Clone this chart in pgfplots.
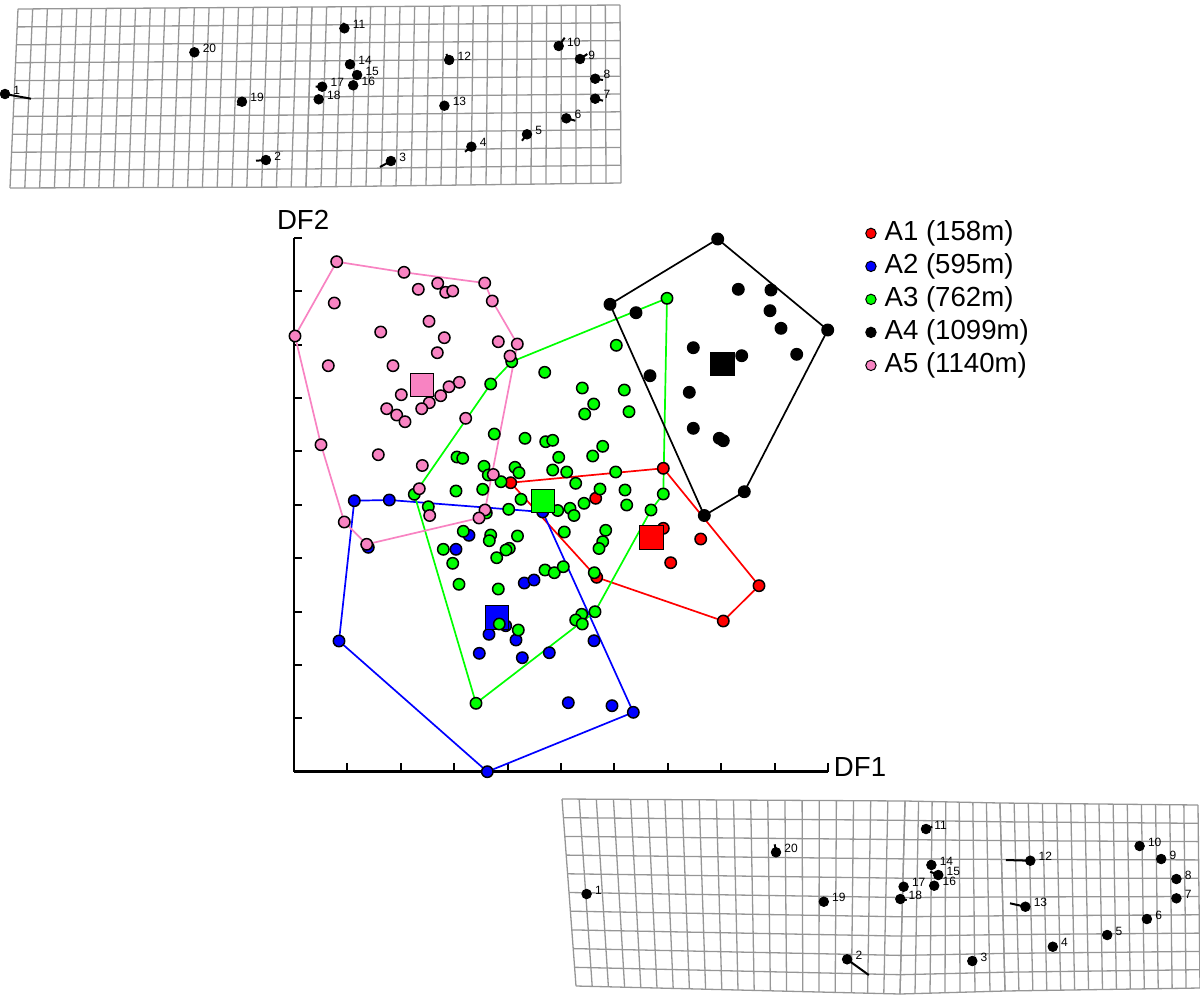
\documentclass[border=0pt]{standalone}
\usepackage{pgfplots}
\pgfplotsset{compat=1.18}
\usepackage{fontspec}
\setmainfont{Liberation Sans}
\usetikzlibrary{calc}
\definecolor{cred}{RGB}{255,0,0}
\definecolor{cblue}{RGB}{0,0,255}
\definecolor{cgreen}{RGB}{0,255,0}
\definecolor{cpink}{RGB}{248,131,194}
\definecolor{gridc}{RGB}{150,150,150}
\pgfdeclarelayer{gridlayer}
\pgfsetlayers{gridlayer,main}
\pgfplotsset{table/px/.style={x expr={(\thisrowno{0}-294)/53.4}, y expr={(771.7-\thisrowno{1})/53.37}},
  pts/.style={only marks, mark=*, mark size=2.85pt, mark options={fill=#1, draw=black, line width=0.75pt}},
  hull/.style={color=#1, line width=0.85pt, no marks},
  cen/.style={only marks, mark=square*, mark size=5.9pt, mark options={fill=#1, draw=none}},
  lm/.style={only marks, mark=*, mark size=2.4pt, black, nodes near coords,
    point meta=explicit symbolic,
    every node near coord/.append style={anchor=west, font=\fontsize{6}{7}\selectfont, inner sep=0pt, xshift=4pt, yshift=2pt, text=black}}}
\begin{document}
\begin{tikzpicture}
% ---------- canvas axis in pixel units for the two deformation grids ----------
\begin{axis}[name=canvas, at={(0,0)}, anchor=north west, scale only axis,
  width=600pt, height=498pt, xmin=0, xmax=1200, ymin=0, ymax=996,
  y dir=reverse, hide axis, clip=false]
% displacement vectors, upper grid
\addplot[black, line width=1pt, unbounded coords=jump] table {
x y
5 94
31 98.7
nan nan
265.9 160
256 160.7
nan nan
390.9 161
380 167
nan nan
471.4 146.7
465 151.7
nan nan
527 134.3
522 140.7
nan nan
566.3 118.3
575.4 120.7
nan nan
595.2 98.7
603 100.7
nan nan
595.2 78.7
603 80
nan nan
580 59
587.3 54
nan nan
558.7 46
564.7 37.7
nan nan
344.4 28.3
343.3 22.7
nan nan
449.2 60
446.4 54
nan nan
350 64.3
345.2 63.3
nan nan
322.2 86.7
315.5 86.7
nan nan
318.7 99.3
315.5 100.7
nan nan
242 101.7
237.3 105
};
% displacement vectors, lower grid
\addplot[black, line width=1pt, unbounded coords=jump] table {
x y
847.1 959.3
868.8 975
nan nan
926 829
932.2 826.7
nan nan
1030.3 860.7
1005.8 860
nan nan
1025.4 906.7
1010 903.3
nan nan
931.4 865
930.2 860
nan nan
938.3 875
930.2 871.7
nan nan
934.2 885.7
930.2 884.3
nan nan
900.3 899
906.8 900
nan nan
776 852.3
774.7 844.3
};
% landmarks, upper grid
\addplot[lm] table[meta=l] {
x y l
5 94 1
265.9 160 2
390.9 161 3
471.4 146.7 4
527 134.3 5
566.3 118.3 6
595.2 98.7 7
595.2 78.7 8
580 59 9
558.7 46 10
344.4 28.3 11
449.2 60 12
444.4 105.7 13
350 64.3 14
357.1 75 15
353.2 85.3 16
322.2 86.7 17
318.7 99.3 18
242 101.7 19
194.4 52.3 20
};
% landmarks, lower grid
\addplot[lm] table[meta=l] {
x y l
586.6 894 1
847.1 959.3 2
972.3 961 3
1052.8 946.7 4
1107.2 935 5
1146.9 919 6
1176.4 898.3 7
1176.4 879 8
1161.2 859 9
1139.6 846 10
926 829 11
1030.3 860.7 12
1025.4 906.7 13
931.4 865 14
938.3 875 15
934.2 885.7 16
903.6 886.7 17
900.3 899 18
823.8 901.7 19
776 852.3 20
};
\end{axis}
% ---------- grid lines (behind the landmarks) ----------
\begin{pgfonlayer}{gridlayer}
\begin{scope}[x=0.5pt, y=-0.5pt]
\foreach \ka/\txa/\tya/\bxa/\bya/\kb/\txb/\tyb/\bxb/\byb in {
   0/18/9/10/188/20/312/7/306/187,
   20/312/7/306/187/41/620/5/621/183,
   0/562/799/576/986/20/905/801/900/994,
   20/905/801/900/994/27/1000/803/1005/991,
   27/1000/803/1005/991/41/1198/805/1200/988}{
  \foreach \c in {\ka,...,\kb}{
    \pgfmathsetmacro\f{(\c-\ka)/(\kb-\ka)}
    \draw[gridc, line width=0.65pt] ($(\txa,\tya)!\f!(\txb,\tyb)$) -- ($(\bxa,\bya)!\f!(\bxb,\byb)$);
  }
  \foreach \r in {0,...,10}{
    \pgfmathsetmacro\g{\r/10}
    \draw[gridc, line width=0.65pt] ($(\txa,\tya)!\g!(\bxa,\bya)$) -- ($(\txb,\tyb)!\g!(\bxb,\byb)$);
  }
}
\end{scope}
\end{pgfonlayer}
% ---------- main discriminant plot ----------
\begin{axis}[at={(147pt,-385.85pt)}, anchor=south west, scale only axis,
  width=267pt, height=266.85pt, xmin=0, xmax=10, ymin=0, ymax=10,
  axis lines=left, axis line style={-, line width=1.3pt},
  xtick={1,...,10}, ytick={1,...,10}, xticklabels={}, yticklabels={},
  tick align=inside, major tick length=4.2pt, tick style={black, line width=1pt},
  clip=false,
  xlabel={DF1}, ylabel={DF2},
  every axis x label/.style={at={(axis description cs:1.06,0.009)}, anchor=center, font=\fontsize{13.8}{16}\selectfont},
  every axis y label/.style={at={(axis description cs:0.017,1.034)}, anchor=center, font=\fontsize{13.8}{16}\selectfont},
  legend style={at={(axis description cs:1.069,1.0375)}, anchor=north west, draw=none, fill=none,
    inner sep=0pt, row sep=1.5pt, font=\fontsize{13.8}{16}\selectfont,
    nodes={inner sep=1pt, text height=10pt, text depth=3pt},
    /tikz/every even column/.append style={column sep=0pt},
    /tikz/every odd column/.append style={column sep=3pt}},
  legend cell align=left,
  legend image code/.code={\filldraw[#1] (0pt,0pt) circle (2.6pt);},
  legend entries={A1 (158m), A2 (595m), A3 (762m), A4 (1099m), A5 (1140m)},
]
\addlegendimage{fill=cred, draw=black, line width=0.5pt}
\addlegendimage{fill=cblue, draw=black, line width=0.5pt}
\addlegendimage{fill=cgreen, draw=black, line width=0.5pt}
\addlegendimage{fill=black, draw=black, line width=0.5pt}
\addlegendimage{fill=cpink, draw=black, line width=0.5pt}
% ----- A1 red -----
\addplot[hull=cred] table[px] {
x y
510.7 482.7
663.3 468.3
759 585.7
723.3 621
596.7 577.3
510.7 482.7
};
\addplot[pts=cred] table[px] {
x y
510.7 482.7
663.3 468.3
595.7 498.3
663.3 528.3
700.7 539
670.7 562.7
596.7 577.3
759 585.7
723.3 621
};
\addplot[cen=cred] table[px] {
x y
651.3 537.5
};
% ----- A2 blue -----
\addplot[hull=cblue] table[px] {
x y
354.3 500.7
389.3 500
542.7 512
633.3 712.3
487.3 771.7
339 641
354.3 500.7
};
\addplot[pts=cblue] table[px] {
x y
354.3 500.7
389.3 500
542.7 512
368.3 547.3
469 535.3
456 549.3
524.3 583
534 580
505.7 625.7
489 634.3
516 640
479.3 653.3
522.3 657.7
549.3 652.7
594 640.7
339 641
568.3 702.7
612 705.7
633.3 712.3
487.3 771.7
};
\addplot[cen=cblue] table[px] {
x y
496.7 617.3
};
% ----- A3 green -----
\addplot[hull=cgreen] table[px] {
x y
667 298.3
663.3 494
651 510
595 611.7
476 703.3
414.3 494.3
490.7 384
511.7 361.7
667 298.3
};
\addplot[pts=cgreen] table[px] {
x y
667 298.3
616.3 345.3
544.7 372.3
511.7 361.7
490.7 384
582.3 388
624.3 390
593.7 404
584.7 414
629 411.7
494.3 434
525 438.3
545.7 441.7
552.7 440.3
602.7 446.3
592.7 456
558.7 457.3
457 457
462.7 458.3
484 466.3
515 467.3
519 472.7
552.7 470
566.7 472
615.7 472
488.3 475
501 481.7
575.7 483.3
456 491
482.7 489.3
600 489
625 490
663.3 494
414.3 494.3
521 499.3
584 503.3
626.7 505
428.3 506.7
508.7 509.3
557.7 510.5
570 508.3
574 515.5
651 510
486.3 513
463.3 531.3
490.7 535
489.3 540.7
517.5 536
564.3 532
605.7 530.3
602.7 541.7
599 548.5
443.3 549.3
509.3 548.3
506 550
496.7 557.7
452.7 563.3
545 570
554.3 572.7
563.3 566.7
594.3 572.7
459 584.3
498.3 589
595 611.7
581.7 614.3
575.7 620
582.3 624
499.3 624
518.3 630
476 703.3
};
\addplot[cen=cgreen] table[px] {
x y
543 501
};
% ----- A4 black -----
\addplot[hull=black] table[px] {
x y
717.7 239
827.7 330
744.3 491.7
704.3 515.5
610 304.3
717.7 239
};
\addplot[pts=black] table[px] {
x y
717.7 239
610 304.3
636 312.7
738.3 289.3
771 290
770 310.7
781 328.3
827.7 330
693.3 347.7
741.7 355.7
796.7 354.3
650 375.7
689.3 392.3
693.3 428.3
719.3 438.3
723.3 440.7
744.3 491.7
704.3 515.5
};
\addplot[cen=black] table[px] {
x y
722.5 364
};
% ----- A5 pink -----
\addplot[hull=cpink] table[px] {
x y
336.7 261.7
404 272.3
484.7 283
492.3 301
517.3 344
485 510
479 518
366.7 544.3
344.3 522
321 444.7
295 336
336.7 261.7
};
\addplot[pts=cpink] table[px] {
x y
336.7 261.7
404 272.3
418.3 289.3
437.7 283.3
445.7 292.3
452.7 291
484.7 283
492.3 301
334.3 303
429 321.3
380.7 332
444.3 337.7
295 336
498.3 341.7
517.3 344
437.3 352.7
510 356
328.3 365.7
393 365.7
459.3 382.3
449 386.7
440.7 395.7
401.3 394.7
429.3 402.7
421.7 408.7
386.7 408.7
396.7 415
405 421.7
465.7 418.3
321 444.7
378.3 454.7
422.3 465.5
419.3 488.7
493.3 474.5
429.7 515.5
485 510
479 518
344.3 522
366.7 544.3
};
\addplot[cen=cpink] table[px] {
x y
421.7 385
};
\end{axis}
\pgfresetboundingbox
\path (0,0) rectangle (600pt,-498pt);
\end{tikzpicture}
\end{document}
